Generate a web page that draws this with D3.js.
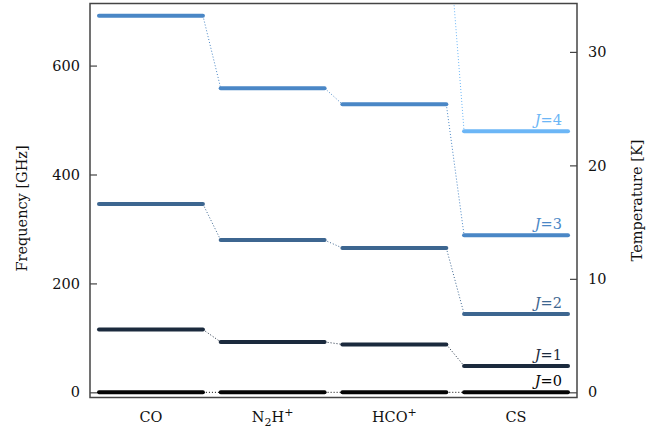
<!doctype html>
<html lang="en">
<head>
    <meta charset="utf-8">
    <title>Rotational levels</title>
    <script src="https://d3js.org/d3.v7.min.js"></script>
    <style>
        body { margin: 0; background: #fff; }
        text { font-family: "DejaVu Serif", "Liberation Serif", serif; fill: #111; }
    </style>
</head>
<body>
<script>
    // Molecules along the x axis
    const molecules = ["CO", "N2H+", "HCO+", "CS"];
    const levels = [0, 1, 2, 3, 4];

    // Level frequency (GHz) for J = 0..4, per molecule
    const freqCO   = [0, 115.3, 345.8, 691.5, 1152.5];
    const freqN2H  = [0, 92.5, 279.5, 558.5, 931.7];
    const freqHCO  = [0, 88.0, 265.0, 529.0, 892.0];
    const freqCS   = [0, 48.5, 144.0, 288.5, 479.5];

    const leftTicks  = [0, 200, 400, 600];
    const rightTicks = [0, 10, 20, 30];

    const levelColors = ["#050505", "#1b2a3d", "#3d6690", "#4a87c6", "#6cb6f6"];
    const GHZ_TO_K = 0.04799;

    const width = 658, height = 432;
    const margin = {top: 3.5, right: 81, bottom: 34.5, left: 90};

    const table = [freqCO, freqN2H, freqHCO, freqCS];

    const svg = d3.select("body").append("svg")
        .attr("width", width)
        .attr("height", height);

    // Scales
    const x = d3.scaleBand()
        .domain(molecules)
        .range([margin.left, width - margin.right])
        .paddingInner(0.146)
        .paddingOuter(0.074);

    const y = d3.scaleLinear()
        .domain([-9.5, 714])
        .range([height - margin.bottom, margin.top]);

    const yT = d3.scaleLinear()
        .domain(y.domain().map(d => d * GHZ_TO_K))
        .range(y.range());

    // Clip
    svg.append("clipPath").attr("id", "plot")
        .append("rect")
        .attr("x", margin.left).attr("y", margin.top)
        .attr("width", width - margin.left - margin.right)
        .attr("height", height - margin.top - margin.bottom);

    const plot = svg.append("g").attr("clip-path", "url(#plot)");

    // Dotted connectors between neighbouring molecules
    levels.forEach(function (j) {
        for (let i = 0; i < molecules.length - 1; i++) {
            plot.append("line")
                .attr("x1", x(molecules[i]) + x.bandwidth())
                .attr("y1", y(table[i][j]))
                .attr("x2", x(molecules[i + 1]))
                .attr("y2", y(table[i + 1][j]))
                .attr("stroke", levelColors[j])
                .attr("stroke-width", 1)
                .attr("stroke-dasharray", "1,2");
        }
    });

    // Level bars
    molecules.forEach(function (m, i) {
        levels.forEach(function (j) {
            plot.append("line")
                .attr("x1", x(m))
                .attr("x2", x(m) + x.bandwidth())
                .attr("y1", y(table[i][j]))
                .attr("y2", y(table[i][j]))
                .attr("stroke", levelColors[j])
                .attr("stroke-width", 4)
                .attr("stroke-linecap", "round");
        });
    });

    // J labels on the CS column
    const last = molecules.length - 1;
    levels.forEach(function (j) {
        const v = table[last][j];
        if (v > y.domain()[1]) return;
        const t = svg.append("text")
            .attr("x", x(molecules[last]) + x.bandwidth() - 6)
            .attr("y", y(v) - 6)
            .attr("text-anchor", "end")
            .attr("font-size", 14.5)
            .style("fill", levelColors[j]);
        t.append("tspan").attr("font-style", "italic").text("J");
        t.append("tspan").text("=" + j);
    });

    // Frame
    svg.append("rect")
        .attr("x", margin.left).attr("y", margin.top)
        .attr("width", width - margin.left - margin.right)
        .attr("height", height - margin.top - margin.bottom)
        .attr("fill", "none")
        .attr("stroke", "#444")
        .attr("stroke-width", 1.5);

    // Left axis (inward ticks)
    const left = svg.append("g")
        .attr("transform", "translate(" + margin.left + ",0)");
    left.call(d3.axisLeft(y).tickValues(d3.range(0, 701, 50)).tickSize(-4).tickFormat(""));
    left.call(d3.axisLeft(y).tickValues(leftTicks).tickSizeInner(-7).tickSizeOuter(0).tickPadding(10));

    const right = svg.append("g")
        .attr("transform", "translate(" + (width - margin.right) + ",0)");
    right.call(d3.axisRight(yT).tickValues(d3.range(0, 35, 2)).tickSize(-4).tickFormat(""));
    right.call(d3.axisRight(yT).tickValues(rightTicks).tickSizeInner(-7).tickSizeOuter(0).tickPadding(11));

    svg.selectAll(".domain").remove();
    svg.selectAll(".tick line").attr("stroke", "#444").attr("stroke-width", 1.2);
    svg.selectAll(".tick text")
        .attr("font-family", "DejaVu Serif")
        .attr("font-size", 14.5)
        .attr("fill", "#111");

    // Molecule labels
    const xl = svg.append("g");
    molecules.forEach(function (m) {
        const t = xl.append("text")
            .attr("x", x(m) + x.bandwidth() / 2)
            .attr("y", height - 10)
            .attr("text-anchor", "middle")
            .attr("font-size", 14.5);
        if (m === "N2H+") {
            t.append("tspan").text("N");
            t.append("tspan").attr("font-size", 11).attr("dy", 4).text("2");
            t.append("tspan").attr("dy", -4).text("H");
            t.append("tspan").attr("font-size", 11).attr("dy", -6).text("+");
        } else if (m === "HCO+") {
            t.append("tspan").text("HCO");
            t.append("tspan").attr("font-size", 11).attr("dy", -6).text("+");
        } else {
            t.text(m);
        }
    });

    // Axis titles
    const midY = (margin.top + height - margin.bottom) / 2;
    svg.append("text")
        .attr("transform", "translate(27," + (midY + 8) + ") rotate(-90)")
        .attr("text-anchor", "middle")
        .attr("font-size", 14.5)
        .text("Frequency [GHz]");
    svg.append("text")
        .attr("transform", "translate(642," + midY + ") rotate(-90)")
        .attr("text-anchor", "middle")
        .attr("font-size", 14.5)
        .text("Temperature [K]");
</script>
</body>
</html>
